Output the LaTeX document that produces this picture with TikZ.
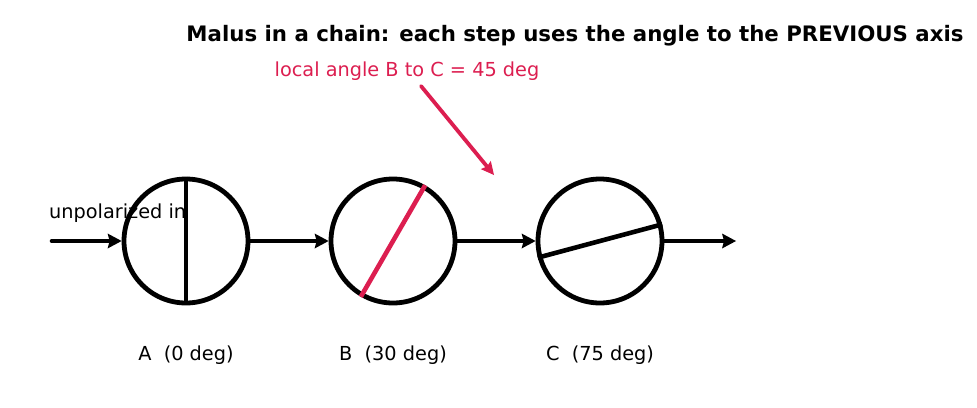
\documentclass[tikz,border=0pt]{standalone}
\usepackage{fontspec}
\setmainfont{DejaVu Sans}
\usetikzlibrary{arrows.meta}
\definecolor{crim}{RGB}{220,30,80}
\begin{document}
\begin{tikzpicture}[x=1pt,y=-1pt,
  pol/.style={draw,line width=4.8pt,circle,minimum size=124pt,inner sep=0pt},
  flow/.style={line width=4.6pt,line cap=round,-{Stealth[length=14pt,width=15pt,inset=2pt,line width=0pt]}},
  axisline/.style={line width=4.6pt},
  lab/.style={font=\fontsize{19.3}{22}\selectfont,inner sep=0pt}]
\useasboundingbox (0,0) rectangle (977,407);
\node[font=\bfseries\fontsize{21.3}{24}\selectfont,inner sep=0pt] (title) at (575,36) {Malus in a chain: each step uses the angle to the PREVIOUS axis};
\node[lab,text=crim] (note) at (407,71) {local angle B to C = 45 deg};
\node[lab,anchor=west] (unp) at (49,213) {unpolarized in};
\node[pol] (A) at (186,241) {};
\node[pol] (B) at (393,241) {};
\node[pol] (C) at (600,241) {};
\coordinate (in) at (52,241);
\coordinate (out) at (736,241);
\coordinate (tgt) at (494,175);
\draw[axisline] (A.90) -- (A.270);
\draw[axisline,crim] (B.60) -- (B.240);
\draw[axisline] (C.15) -- (C.195);
\draw[flow] (in) -- (A.west);
\draw[flow] (A.east) -- (B.west);
\draw[flow] (B.east) -- (C.west);
\draw[flow] (C.east) -- (out);
\draw[line width=3.8pt,line cap=round,crim,-{Stealth[length=13pt,width=13pt,inset=2pt,line width=0pt]}] (421,86) -- (tgt);
\node[lab] (la) at (186,355) {A\ \ (0 deg)};
\node[lab] (lb) at (393,355) {B\ \ (30 deg)};
\node[lab] (lc) at (600,355) {C\ \ (75 deg)};
\end{tikzpicture}
\end{document}
